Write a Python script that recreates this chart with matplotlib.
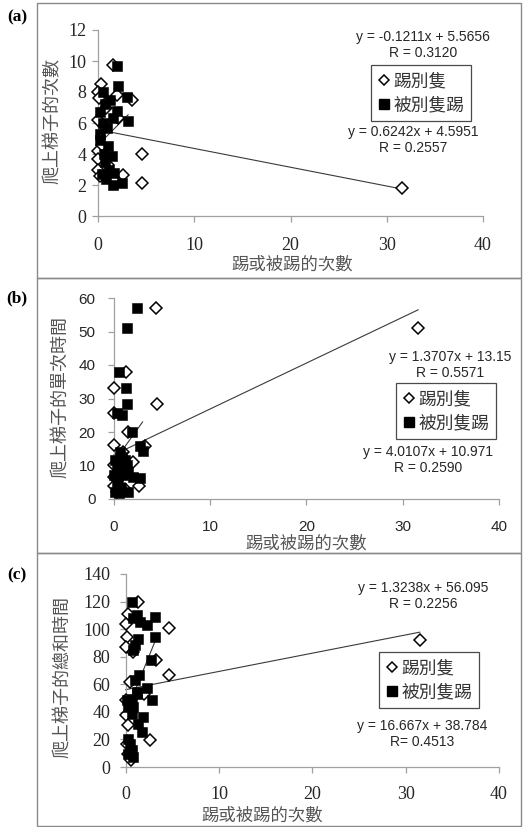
import matplotlib
matplotlib.use("Agg")
import matplotlib.pyplot as plt
from matplotlib.lines import Line2D
from matplotlib.patches import Rectangle
from matplotlib.font_manager import FontProperties

# ---------------- data ----------------
x_ticks = [0, 10, 20, 30, 40]
series_labels = ["踢別隻", "被別隻踢"]
x_label = "踢或被踢的次數"
y_labels = ["爬上梯子的次數", "爬上梯子的單次時間", "爬上梯子的總和時間"]
panel_tags = ["(a)", "(b)", "(c)"]

a_kick_x = [1.5, 0.3, 0.0, 0.05, 3.5, 1.9, 0.0, 2.0, 0.0, 0.0, 0.0, 0.2, 2.6, 4.5, 4.5, 31.6, 0.6, 0.8, 0.4, 1.0]
a_kick_y = [9.75, 8.5, 8.0, 7.6, 7.5, 7.8, 6.2, 6.3, 4.2, 3.7, 3.0, 2.6, 2.65, 4.0, 2.15, 1.83, 5.8, 7.0, 4.6, 3.3]
a_kicked_x = [1.9, 0.45, 2.1, 3.0, 0.7, 1.9, 0.2, 1.56, 3.1, 0.2, 0.9, 1.0, 1.4, 0.6, 0.7, 1.1, 1.6, 0.4, 1.56, 2.5, 0.8, 0.2, 1.2, 0.5]
a_kicked_y = [9.7, 8.0, 8.4, 7.7, 7.2, 6.8, 6.7, 6.3, 6.15, 5.3, 5.7, 4.5, 3.9, 4.0, 3.5, 3.0, 2.8, 2.7, 1.98, 2.15, 2.4, 4.9, 7.5, 6.0]

b_kick_x = [4.4, 31.6, 1.3, 0.0, 4.5, 0.0, 1.5, 3.2, 0.0, 2.0, 2.6, 0.0, 0.0, 0.0, 0.5, 0.8, 1.2, 0.3, 1.0]
b_kick_y = [57.1, 51.1, 37.9, 33.2, 28.5, 25.8, 20.1, 15.9, 16.1, 10.9, 4.0, 10.1, 6.7, 4.0, 12.0, 8.0, 3.0, 2.0, 14.0]
b_kicked_x = [2.4, 1.35, 0.6, 1.25, 1.35, 0.3, 0.9, 1.9, 2.7, 3.0, 2.7, 2.0, 1.5, 0.15, 0.3, 0.15, 0.65, 1.35, 0.5, 0.8, 1.2, 0.0, 0.3, 1.0, 1.5, 0.5, 0.9, 0.4]
b_kicked_y = [57.1, 51.1, 37.9, 33.2, 28.5, 25.8, 25.2, 20.1, 15.9, 14.4, 6.4, 6.7, 2.2, 2.2, 5.2, 11.6, 14.1, 10.1, 8.1, 3.2, 11.6, 7.2, 9.6, 7.2, 8.1, 1.7, 12.5, 4.5]

c_kick_x = [1.36, 0.3, 0.0, 0.1, 0.0, 4.6, 31.5, 3.3, 4.6, 0.45, 0.0, 0.0, 0.3, 2.6, 0.3, 0.6, 0.8, 0.1, 2.0]
c_kick_y = [119.9, 110.7, 104, 94, 86.7, 100.5, 92, 77.5, 66.6, 61.8, 48.4, 37.5, 30.3, 19.9, 9.7, 4.8, 83.5, 17, 53]
c_kicked_x = [0.7, 1.2, 0.8, 1.5, 2.25, 3.1, 3.1, 1.36, 1.0, 0.8, 2.7, 1.46, 1.0, 2.25, 2.8, 1.2, 0.65, 0.1, 0.8, 0.65, 1.36, 1.7, 1.9, 0.3, 0.45, 0.65, 0.3, 0.8, 1.2, 0.3]
c_kicked_y = [119.9, 110, 107.8, 105, 103, 109, 94, 92.5, 88.4, 84.8, 77.5, 66.6, 63, 57, 48.4, 53, 49.6, 48.4, 43.6, 38.8, 31.5, 25.4, 36, 20.6, 17, 12, 9.7, 7.3, 54.5, 43.6]

# trend-line coefficients (slope, intercept) for [kick, kicked]
a_fit = [(-0.1211, 5.5656), (0.6242, 4.5951)]
b_fit = [(1.3707, 13.15), (4.0107, 10.971)]
c_fit = [(1.3238, 56.095), (16.667, 38.784)]

a_eq = ["y = -0.1211x + 5.5656\nR = 0.3120", "y = 0.6242x + 4.5951\nR = 0.2557"]
b_eq = ["y = 1.3707x + 13.15\nR = 0.5571", "y = 4.0107x + 10.971\nR = 0.2590"]
c_eq = ["y = 1.3238x + 56.095\nR = 0.2256", "y = 16.667x + 38.784\nR= 0.4513"]

a_yticks = [0, 2, 4, 6, 8, 10, 12]
b_yticks = [0, 10, 20, 30, 40, 50, 60]
c_yticks = [0, 20, 40, 60, 80, 100, 120, 140]

# ---------------- layout ----------------
W, H = 529, 827
fig = plt.figure(figsize=(W / 100, H / 100), dpi=100)

def fx(p):
    return p / W

def fy(p):
    return 1 - p / H

CJK = ["Noto Sans CJK TC", "DejaVu Sans"]
SERIF = ["Liberation Serif", "DejaVu Serif"]
SANS = ["Liberation Sans", "DejaVu Sans"]

# panel boxes
for top, bot in [(3, 278), (278, 553), (553, 826)]:
    fig.add_artist(Rectangle((fx(37), fy(bot)), fx(521) - fx(37), fy(top) - fy(bot),
                             transform=fig.transFigure, fill=False,
                             ec="#8a8a8a", lw=1.0))

panels = [
    dict(kx=a_kick_x, ky=a_kick_y, sx=a_kicked_x, sy=a_kicked_y, fit=a_fit, eq=a_eq,
         yt=a_yticks, ymax=12, box=(98.3, 483, 30, 216), tickfont=SERIF, tfs=13,
         ypad=4.5, xpad=11,
         eqpos=[(423, 45), (413, 140)], leg=(371, 65),
         ylab=(53, 121), xlab=(292, 265), tag=(17, 17)),
    dict(kx=b_kick_x, ky=b_kick_y, sx=b_kicked_x, sy=b_kicked_y, fit=b_fit, eq=b_eq,
         yt=b_yticks, ymax=60, box=(113.7, 499, 298, 499), tickfont=SANS, tfs=11,
         ypad=9, xpad=11,
         eqpos=[(450, 365), (428, 460)], leg=(396, 383),
         ylab=(60, 397), xlab=(306, 544), tag=(17, 298)),
    dict(kx=c_kick_x, ky=c_kick_y, sx=c_kicked_x, sy=c_kicked_y, fit=c_fit, eq=c_eq,
         yt=c_yticks, ymax=140, box=(125.7, 499, 574, 767), tickfont=SERIF, tfs=13,
         ypad=7, xpad=10,
         eqpos=[(423, 596), (422, 734)], leg=(379, 652),
         ylab=(62, 677), xlab=(262, 816), tag=(17, 575)),
]

for i, p in enumerate(panels):
    l, r, t, b = p["box"]
    ax = fig.add_axes([fx(l), fy(b), (r - l) / W, (b - t) / H])
    ax.set_xlim(0, 40)
    ax.set_ylim(0, p["ymax"])
    for s in ("top", "right"):
        ax.spines[s].set_visible(False)
    for s in ("left", "bottom"):
        ax.spines[s].set_color("#a0a0a0")
        ax.spines[s].set_linewidth(0.9)
    ax.set_xticks(x_ticks)
    ax.set_yticks(p["yt"])
    ax.tick_params(axis="both", direction="out", length=4, width=0.9, color="#a0a0a0",
                   labelcolor="#262626", labelsize=p["tfs"])
    ax.tick_params(axis="y", pad=p["ypad"])
    ax.tick_params(axis="x", pad=p["xpad"])
    for lab in ax.get_xticklabels() + ax.get_yticklabels():
        lab.set_fontfamily(p["tickfont"])

    # trend lines
    for (xs, (m, c)) in zip([p["kx"], p["sx"]], p["fit"]):
        x0, x1 = min(xs), max(xs)
        ax.plot([x0, x1], [m * x0 + c, m * x1 + c], color="#3a3a3a", lw=0.8,
                zorder=2, clip_on=False)

    ax.plot(p["kx"], p["ky"], linestyle="none", marker="D", ms=6.4, mfc="white",
            mec="black", mew=1.1, zorder=3, clip_on=False)
    ax.plot(p["sx"], p["sy"], linestyle="none", marker="s", ms=7.6, mfc="black",
            mec="black", mew=0.4, zorder=4, clip_on=False)

    # equations
    for txt, (ex, ey) in zip(p["eq"], p["eqpos"]):
        fig.text(fx(ex), fy(ey), txt, ha="center", va="center", fontsize=10,
                 family=SANS, color="#262626", linespacing=1.25)

    # legend
    handles = [
        Line2D([], [], linestyle="none", marker="D", ms=5, mfc="white", mec="black", mew=1.1),
        Line2D([], [], linestyle="none", marker="s", ms=7, mfc="black", mec="black"),
    ]
    leg = ax.legend(handles, series_labels, loc="upper left",
                    bbox_to_anchor=(fx(p["leg"][0]), fy(p["leg"][1])),
                    bbox_transform=fig.transFigure, frameon=True, fancybox=False,
                    edgecolor="#4a4a4a", framealpha=1, handlelength=0.7,
                    handletextpad=0.15, borderpad=0.4, labelspacing=0.35,
                    borderaxespad=0,
                    prop=FontProperties(family=CJK, size=12.8))
    leg.get_frame().set_linewidth(0.9)
    for tx in leg.get_texts():
        tx.set_color("#333333")

    # axis labels
    fig.text(fx(p["ylab"][0]), fy(p["ylab"][1]), y_labels[i], rotation=90,
             ha="center", va="center", fontsize=13, family=CJK, color="#555555")
    fig.text(fx(p["xlab"][0]), fy(p["xlab"][1]), x_label, ha="center", va="center",
             fontsize=12.5, family=CJK, color="#555555")
    fig.text(fx(p["tag"][0]), fy(p["tag"][1]), panel_tags[i], ha="center", va="center",
             fontsize=12.5, family=SERIF, fontweight="bold", color="black")

fig.savefig("out.png", dpi=100)
